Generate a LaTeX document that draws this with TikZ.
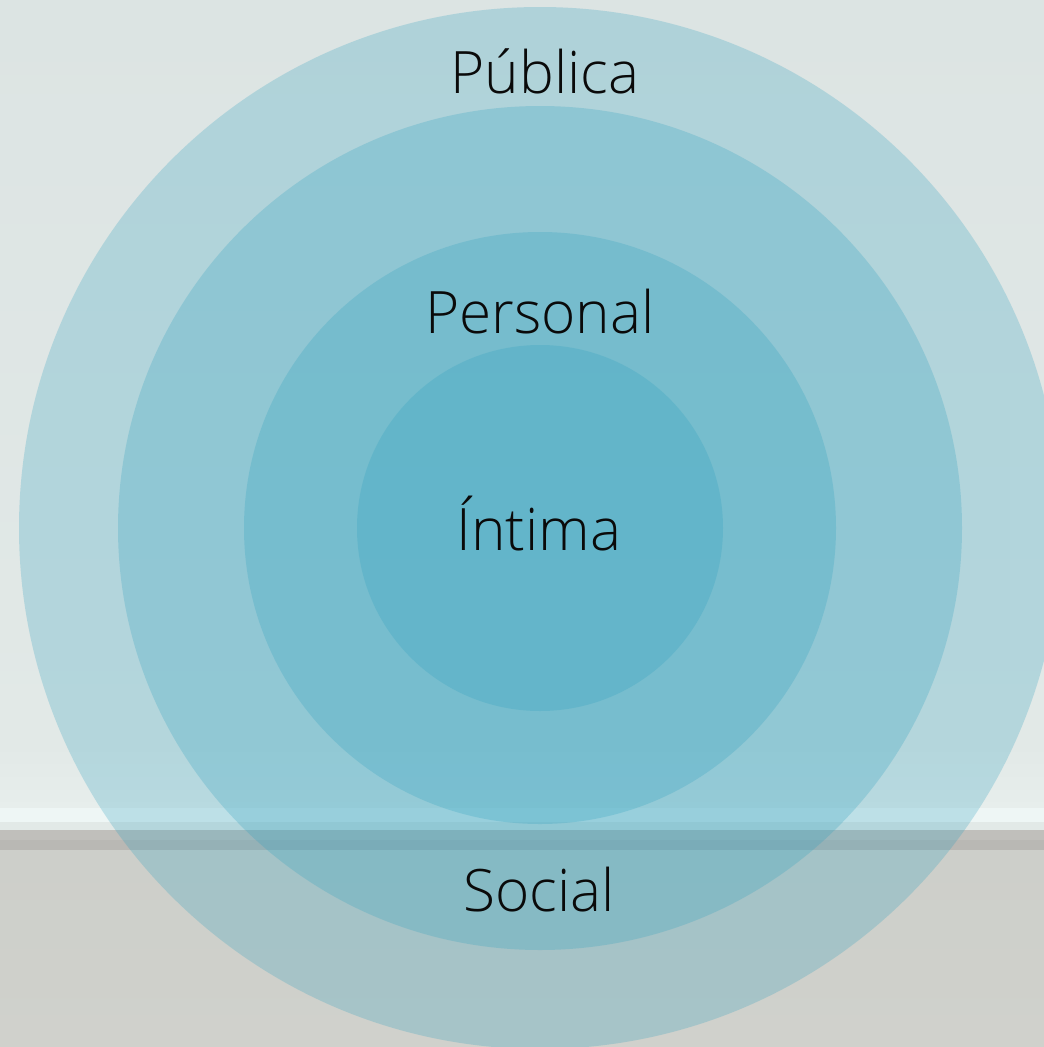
\documentclass[tikz,border=0pt]{standalone}
\usepackage{fontspec}
\setmainfont{Open Sans}[UprightFont=* Light]
\definecolor{bgtop}{HTML}{DCE4E3}
\definecolor{bgmid}{HTML}{E2E9E7}
\definecolor{bgband}{HTML}{E7EEEC}
\definecolor{bglight}{HTML}{EEF6F5}
\definecolor{floordark}{HTML}{C0BFBB}
\definecolor{floordarker}{HTML}{B9B8B4}
\definecolor{floortop}{HTML}{CDCFCA}
\definecolor{floorbot}{HTML}{D0D1CC}
\definecolor{ringblue}{RGB}{44,160,191}
\definecolor{txt}{HTML}{0A0A0A}
\tikzset{
  ring/.style={fill=ringblue, fill opacity=0.25, draw=none},
  label/.style={font=\fontsize{58.5}{62}\selectfont, text=txt, anchor=base, inner sep=0pt}
}
\begin{document}
\begin{tikzpicture}[x=1pt,y=-1pt]
\useasboundingbox (0,0) rectangle (1044,1047);
% background
\shade[top color=bgtop, bottom color=bgmid] (0,0) rectangle (1044,745);
\shade[top color=bgmid, bottom color=bgband] (0,745) rectangle (1044,808);
\fill[bglight] (0,808) rectangle (1044,822);
\fill[bgmid] (0,822) rectangle (1044,830);
\fill[floordark] (0,830) rectangle (1044,840);
\fill[floordarker] (0,840) rectangle (1044,850);
\shade[top color=floortop, bottom color=floorbot] (0,850) rectangle (1044,1047);
% rings
\coordinate (c) at (540,528);
\fill[ring] (c) circle[radius=521];
\fill[ring] (c) circle[radius=422];
\fill[ring] (c) circle[radius=296];
\fill[ring] (c) circle[radius=183];
% labels
\node[label] (publica) at (545,93) {Pública};
\node[label] (personal) at (540,333) {Personal};
\node[label] (intima) at (539,550) {Íntima};
\node[label] (social) at (539,911) {Social};
\end{tikzpicture}
\end{document}
